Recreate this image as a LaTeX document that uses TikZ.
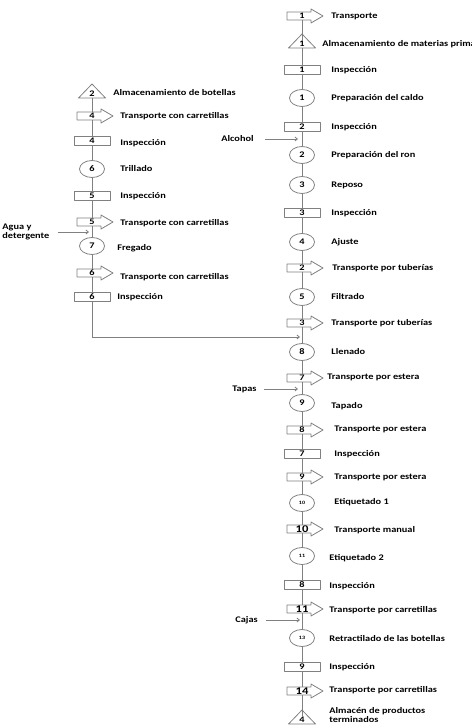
\documentclass[tikz,border=0pt]{standalone}
\usepackage{fontspec}
\setmainfont{Carlito}[FakeStretch=1.2]
\usetikzlibrary{shapes.geometric,arrows.meta}
\definecolor{linea}{RGB}{128,128,128}
\newcommand{\numchico}[1]{{\fontsize{5}{5}\selectfont #1}}
\newcommand{\numgrande}[1]{{\fontsize{10.5}{10.5}\selectfont #1}}
\tikzset{
	insp/.style={draw=linea,fill=white,minimum width=36pt,minimum height=9pt,inner sep=0pt},
	oper/.style={ellipse,draw=linea,fill=white,minimum width=25pt,minimum height=17pt,inner sep=0pt},
	transp/.style={inner sep=0.5pt},
	alm/.style={inner sep=0.5pt},
	txt/.style={anchor=west,align=left,inner sep=0pt},
	entrada/.style={linea,-{Straight Barb[length=2.5pt,width=4pt]}},
	flecha/.pic={\draw[linea] (-15,-4)--(9,-4)--(9,-7)--(21,0)--(9,7)--(9,4)--(-15,4)--cycle;},
	triang/.pic={\draw[linea] (-13.5,4)--(0,-10)--(13.5,4)--cycle;}
}
\begin{document}
\begin{tikzpicture}[x=1pt,y=-1pt,font=\bfseries\fontsize{8.6}{9}\selectfont,line width=0.8pt,line join=round]
	\useasboundingbox (0,0) rectangle (471,727);
	% columna principal
	\foreach \i/\y/\tipo/\n/\lx/\ly/\txt in {
		1/16/transp/1/331/16/Transporte,
		2/44/alm/1/322/44/Almacenamiento de materias primas,
		3/70/insp/1/331/70/Inspección,
		4/98/oper/1/331/98/Preparación del caldo,
		5/127/insp/2/331/127/Inspección,
		6/155/oper/2/331/155/Preparación del ron,
		7/185/oper/3/331/185/Reposo,
		8/213/insp/3/331/213/Inspección,
		9/242/oper/4/331/242/Ajuste,
		10/268/transp/2/332/268/Transporte por tuberías,
		11/297/oper/5/331/297/Filtrado,
		12/323/transp/3/331/323/Transporte por tuberías,
		13/352/oper/8/331/352/Llenado,
		14/378/transp/7/327/377/Transporte por estera,
		15/403/oper/9/331/406/Tapado,
		16/430/transp/8/334/429/Transporte por estera,
		17/454/insp/7/334/454/Inspección,
		18/477/transp/9/334/477/Transporte por estera,
		19/503/oper/\numchico{10}/334/502/Etiquetado 1,
		20/529/transp/\numgrande{10}/334/530/Transporte manual,
		21/556/oper/\numchico{11}/329/558/Etiquetado 2,
		22/585/insp/8/329/586/Inspección,
		23/609/transp/\numgrande{11}/329/610/Transporte por carretillas,
		24/638/oper/\numchico{13}/329/639/Retractilado de las botellas,
		25/667/insp/9/329/667/Inspección,
		26/691/transp/\numgrande{14}/329/690/Transporte por carretillas,
		27/720/alm/4/329/715/{Almacén de productos\\terminados}}{
		\node[\tipo] (m\i) at (302,\y) {\n};
		\node[txt] (l\i) at (\lx,\ly) {\txt};
	}
	% columna de botellas
	\foreach \i/\y/\tipo/\n/\lx/\ly/\txt in {
		1/94/alm/2/113/93/Almacenamiento de botellas,
		2/116/transp/4/120/116/Transporte con carretillas,
		3/141/insp/4/120/143/Inspección,
		4/169/oper/6/120/169/Trillado,
		5/196/insp/5/120/196/Inspección,
		6/222/transp/5/120/223/Transporte con carretillas,
		7/246/oper/7/117/248/Fregado,
		8/273/transp/6/120/277/Transporte con carretillas,
		9/297/insp/6/117/297/Inspección}{
		\node[\tipo] (b\i) at (92,\y) {\n};
		\node[txt] (k\i) at (\lx,\ly) {\txt};
	}
	\foreach \n in {m1,m10,m12,m14,m16,m18,m20,m23,m26,b2,b6,b8}
		\pic at (\n) {flecha};
	\foreach \n in {m2,m27,b1}
		\pic at (\n) {triang};
	\foreach \i [count=\j from 2] in {1,...,26}
		\draw[linea] (m\i) -- (m\j);
	\foreach \i [count=\j from 2] in {1,...,8}
		\draw[linea] (b\i) -- (b\j);
	\path (92,337) coordinate (b10) (300,337) coordinate (e1);
	\draw[linea] (b9) -- (b10);
	\draw[entrada] (b10) -- (e1);
	% entradas
	\node[txt] (alc) at (221,139) {Alcohol};
	\node[txt] (agua) at (2,232) {Agua y\\detergente};
	\node[txt] (tap) at (232,389) {Tapas};
	\node[txt] (caj) at (235,620) {Cajas};
	\path (298,139) coordinate (ealc) (89,232) coordinate (eagua)
		(298,389) coordinate (etap) (300,620) coordinate (ecaj);
	\draw[entrada] ([xshift=11pt]alc.east) -- (ealc);
	\draw[entrada] ([xshift=8pt]agua.east) -- (eagua);
	\draw[entrada] ([xshift=7pt]tap.east) -- (etap);
	\draw[entrada] ([xshift=8pt]caj.east) -- (ecaj);
\end{tikzpicture}
\end{document}
